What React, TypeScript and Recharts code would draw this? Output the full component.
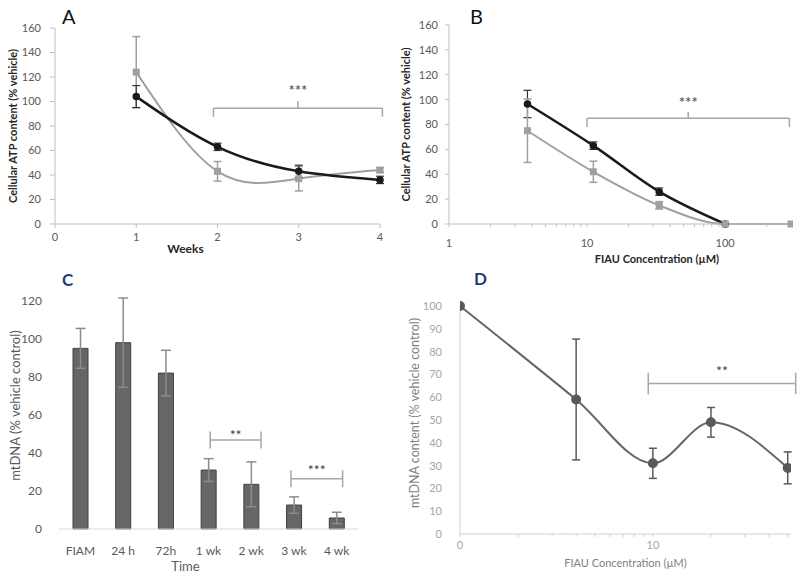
import React from 'react';
import {
  LineChart, ComposedChart, Line, Bar, XAxis, YAxis, ErrorBar, ReferenceLine, Label
} from 'recharts';

const FONT = 'Lato, "Liberation Sans", sans-serif';

// Panel A – ATP over weeks
const weeksA = [1, 2, 3, 4];
const atpBlackA = [104, 63, 43, 36];
const atpBlackErrA = [9, 3, 5, 3];
const atpGrayA = [124, 43, 37, 44];
const atpGrayErrA = [29, 8, 10, 2];

// Panel B – ATP vs FIAU concentration
const concBlackB = [3.7, 11.1, 33.3, 100];
const atpBlackB = [96.5, 63, 26, 0];
const atpBlackErrB = [11, 3, 3, 0];
const concGrayB = [3.7, 11.1, 33.3, 100, 300];
const atpGrayB = [75, 42, 15, 0, 0];
const atpGrayErrB = [25.5, 8.5, 3, 0, 0];
const logTicksB = [1, 2, 3, 4, 5, 6, 7, 8, 9, 10, 20, 30, 40, 50, 60, 70, 80, 90, 100, 200, 300];

// Panel C – mtDNA over time
const timeLabelsC = ['FIAM', '24 h', '72h', '1 wk', '2 wk', '3 wk', '4 wk'];
const mtdnaC = [95, 98, 82, 31, 23.5, 12.6, 5.8];
const mtdnaErrC = [10.5, 23.5, 12, 6, 11.8, 4.3, 3];

// Panel D – mtDNA vs FIAU concentration
const concD = [1, 4, 10, 20, 50];
const mtdnaD = [100, 59, 31, 49, 29];
const mtdnaErrD = [0, 26.5, 6.6, 6.5, 7];
const logTicksD = [1, 2, 3, 4, 5, 6, 7, 8, 9, 10, 20, 30, 40, 50];

// significance brackets: [x1, x2, lineY, endLow, endHigh]
const bracketA = [1.95, 4.03, 94.4, 87.5, 94.4];
const stemA = [2.99, 94.4, 100.5];
const bracketB = [10, 292, 85, 78, 85];
const stemB = [54, 85, 90];
const bracketC1 = [3.04, 4.23, 46.8, 42.3, 51.3];
const bracketC2 = [4.93, 6.14, 26.4, 21.9, 30.9];
const bracketD = [9.46, 55, 66, 61.3, 70.7];

const rowsA = weeksA.map((w, i) => ({
  week: w, black: atpBlackA[i], blackErr: atpBlackErrA[i], gray: atpGrayA[i], grayErr: atpGrayErrA[i],
}));
const rowsBlackB = concBlackB.map((c, i) => ({ conc: c, v: atpBlackB[i], err: atpBlackErrB[i] }));
const rowsGrayB = concGrayB.map((c, i) => ({ conc: c, v: atpGrayB[i], err: atpGrayErrB[i] }));
const rowsC = timeLabelsC.map((t, i) => ({ idx: i, v: mtdnaC[i], err: mtdnaErrC[i] }));
const rowsD = concD.map((c, i) => ({ conc: c, v: mtdnaD[i], err: mtdnaErrD[i] || null }));

const squareDot = (size: number, color: string) => (p: any) => {
  const { cx, cy, index } = p;
  if (cx == null || cy == null || isNaN(cx) || isNaN(cy)) return <g key={`sq${index}`} />;
  return <rect key={`sq${index}`} x={cx - size / 2} y={cy - size / 2} width={size} height={size} fill={color} />;
};

const bracketLines = (b: number[], stars: string, gap: number, size: number, key: string, stem?: number[]) => {
  const color = '#a6a6a6';
  const out = [
    <ReferenceLine key={key + 'h'} segment={[{ x: b[0], y: b[2] }, { x: b[1], y: b[2] }]} stroke={color}
      strokeWidth={1.5} ifOverflow="visible"
      label={{ value: stars, position: 'top', offset: gap, fill: '#404040', fontSize: size, fontFamily: FONT }} />,
    <ReferenceLine key={key + 'l'} segment={[{ x: b[0], y: b[3] }, { x: b[0], y: b[4] }]} stroke={color}
      strokeWidth={1.5} ifOverflow="visible" />,
    <ReferenceLine key={key + 'r'} segment={[{ x: b[1], y: b[3] }, { x: b[1], y: b[4] }]} stroke={color}
      strokeWidth={1.5} ifOverflow="visible" />,
  ];
  if (stem) {
    out.push(
      <ReferenceLine key={key + 's'} segment={[{ x: stem[0], y: stem[1] }, { x: stem[0], y: stem[2] }]}
        stroke={color} strokeWidth={1.5} ifOverflow="visible" />
    );
  }
  return out;
};

const letter = (text: string, left: number, top: number, color: string, size: number, weight: number) => (
  <div style={{
    position: 'absolute', left, top, fontFamily: FONT, fontSize: size, fontWeight: weight,
    color, lineHeight: 1,
  }}>{text}</div>
);

const tickDark = { fill: '#595959', fontSize: 11, fontFamily: FONT };
const tickC = { fill: '#595959', fontSize: 12, fontFamily: FONT };
const tickLight = { fill: '#a6a6a6', fontSize: 11, fontFamily: FONT };

export default function App() {
  return (
    <div style={{ position: 'absolute', left: 0, top: 0, width: 800, height: 574, background: '#fff', overflow: 'hidden' }}>
      {/* A */}
      <div style={{ position: 'absolute', left: 0, top: 0 }}>
        <LineChart width={396} height={270} data={rowsA} margin={{ top: 28, right: 16, bottom: 0, left: 0 }}>
          <XAxis dataKey="week" type="number" domain={[0, 4]} ticks={[0, 1, 2, 3, 4]} height={46}
            stroke="#bfbfbf" tickSize={4} tickMargin={5} tick={tickDark}>
            <Label value="Weeks" position="insideBottom" offset={17} dx={-32}
              style={{ fontFamily: FONT, fontSize: 12, fontWeight: 700, fill: '#262626' }} />
          </XAxis>
          <YAxis domain={[0, 160]} ticks={[0, 20, 40, 60, 80, 100, 120, 140, 160]} width={55}
            stroke="#bfbfbf" tickSize={5} tickMargin={9} tick={tickDark}>
            <Label value="Cellular ATP content (% vehicle)" angle={-90} position="insideLeft" offset={13}
              style={{ textAnchor: 'middle', fontFamily: FONT, fontSize: 11, fontWeight: 700, fill: '#262626' }} />
          </YAxis>
          {bracketLines(bracketA, '***', 12, 15, 'a', stemA)}
          <Line dataKey="gray" type="natural" stroke="#a0a0a0" strokeWidth={2}
            dot={squareDot(7, '#a0a0a0')} isAnimationActive={false}>
            <ErrorBar dataKey="grayErr" direction="y" width={4} stroke="#a0a0a0" strokeWidth={1.5} />
          </Line>
          <Line dataKey="black" type="natural" stroke="#1a1a1a" strokeWidth={2.5}
            dot={{ r: 2.5, fill: '#1a1a1a', stroke: '#1a1a1a' }} isAnimationActive={false}>
            <ErrorBar dataKey="blackErr" direction="y" width={4} stroke="#333" strokeWidth={1.2} />
          </Line>
        </LineChart>
      </div>

      {/* B */}
      <div style={{ position: 'absolute', left: 396, top: 0 }}>
        <LineChart width={404} height={270} margin={{ top: 25, right: 7, bottom: 0, left: 0 }}>
          <XAxis dataKey="conc" type="number" scale="log" domain={[1, 310]} ticks={logTicksB} interval={0}
            allowDataOverflow height={46} stroke="#bfbfbf" tickSize={3} tickMargin={12} tick={tickDark}
            tickFormatter={(v: number) => ([1, 10, 100].includes(v) ? String(v) : '')}>
            <Label value="FIAU Concentration (µM)" position="insideBottom" offset={7} dx={36}
              style={{ fontFamily: FONT, fontSize: 11, fontWeight: 700, fill: '#262626' }} />
          </XAxis>
          <YAxis domain={[0, 160]} ticks={[0, 20, 40, 60, 80, 100, 120, 140, 160]} width={53}
            stroke="#bfbfbf" tickSize={4} tickMargin={7} tick={tickDark}>
            <Label value="Cellular ATP content (% vehicle)" angle={-90} position="insideLeft" offset={10}
              style={{ textAnchor: 'middle', fontFamily: FONT, fontSize: 11, fontWeight: 700, fill: '#262626' }} />
          </YAxis>
          {bracketLines(bracketB, '***', 10, 15, 'b', stemB)}
          <Line data={rowsBlackB} dataKey="v" type="monotone" stroke="#1a1a1a" strokeWidth={2.5}
            dot={{ r: 2.5, fill: '#1a1a1a', stroke: '#1a1a1a' }} isAnimationActive={false}>
            <ErrorBar dataKey="err" direction="y" width={4} stroke="#333" strokeWidth={1.2} />
          </Line>
          <Line data={rowsGrayB} dataKey="v" type="monotone" stroke="#a0a0a0" strokeWidth={2}
            dot={squareDot(7, '#a0a0a0')} isAnimationActive={false}>
            <ErrorBar dataKey="err" direction="y" width={4} stroke="#a0a0a0" strokeWidth={1.5} />
          </Line>
        </LineChart>
      </div>

      {/* C */}
      <div style={{ position: 'absolute', left: 0, top: 270 }}>
        <ComposedChart width={400} height={304} data={rowsC} margin={{ top: 28, right: 42, bottom: 0, left: 0 }}>
          <XAxis dataKey="idx" type="number" domain={[-0.5, 6.5]} ticks={[0, 1, 2, 3, 4, 5, 6]} interval={0}
            height={45} stroke="#d9d9d9" tickLine={false} tickMargin={11} tick={tickC}
            tickFormatter={(v: number) => timeLabelsC[v]}>
            <Label value="Time" position="insideBottom" offset={3} dx={-23}
              style={{ fontFamily: FONT, fontSize: 13, fill: '#595959' }} />
          </XAxis>
          <YAxis domain={[0, 120]} ticks={[0, 20, 40, 60, 80, 100, 120]} width={59}
            axisLine={false} tickLine={false} tickMargin={11} tick={tickC}>
            <Label value="mtDNA (% vehicle control)" angle={-90} position="insideLeft" offset={15} dy={-8}
              style={{ textAnchor: 'middle', fontFamily: FONT, fontSize: 13, fill: '#595959' }} />
          </YAxis>
          <Bar dataKey="v" barSize={15} fill="#666666" stroke="#404040" strokeWidth={1} isAnimationActive={false}>
            <ErrorBar dataKey="err" direction="y" width={5} stroke="#8c8c8c" strokeWidth={1.5} />
          </Bar>
          {bracketLines(bracketC1, '**', 0, 14, 'c1')}
          {bracketLines(bracketC2, '***', 4, 14, 'c2')}
        </ComposedChart>
      </div>

      {/* D */}
      <div style={{ position: 'absolute', left: 400, top: 270 }}>
        <LineChart width={400} height={304} data={rowsD} margin={{ top: 36, right: 9, bottom: 0, left: 0 }}>
          <XAxis dataKey="conc" type="number" scale="log" domain={[1, 52]} ticks={logTicksD} interval={0}
            allowDataOverflow height={40} stroke="#d0d0d0" tickSize={3} tickMargin={4} tick={tickLight}
            tickFormatter={(v: number) => (v === 1 ? '0' : v === 10 ? '10' : '')}>
            <Label value="FIAU Concentration (µM)" position="insideBottom" offset={7}
              style={{ fontFamily: FONT, fontSize: 11, fill: '#7f7f7f' }} />
          </XAxis>
          <YAxis domain={[0, 100]} ticks={[0, 10, 20, 30, 40, 50, 60, 70, 80, 90, 100]} width={60}
            stroke="#d0d0d0" tickLine={false} tickMargin={12} tick={tickLight}>
            <Label value="mtDNA content (% vehicle control)" angle={-90} position="insideLeft" offset={15} dy={-7}
              style={{ textAnchor: 'middle', fontFamily: FONT, fontSize: 12.5, fill: '#7f7f7f' }} />
          </YAxis>
          {bracketLines(bracketD, '**', 8, 14, 'd')}
          <Line dataKey="v" type="monotone" stroke="#666666" strokeWidth={2}
            dot={{ r: 4, fill: '#595959', stroke: '#595959' }} isAnimationActive={false}>
            <ErrorBar dataKey="err" direction="y" width={4} stroke="#595959" strokeWidth={1.5} />
          </Line>
        </LineChart>
      </div>

      {letter('A', 62, 6, '#111', 20, 400)}
      {letter('B', 470, 6, '#111', 20, 400)}
      {letter('C', 62, 271, '#1f3a7a', 17, 700)}
      {letter('D', 474, 270, '#1f3a7a', 17, 700)}
    </div>
  );
}
